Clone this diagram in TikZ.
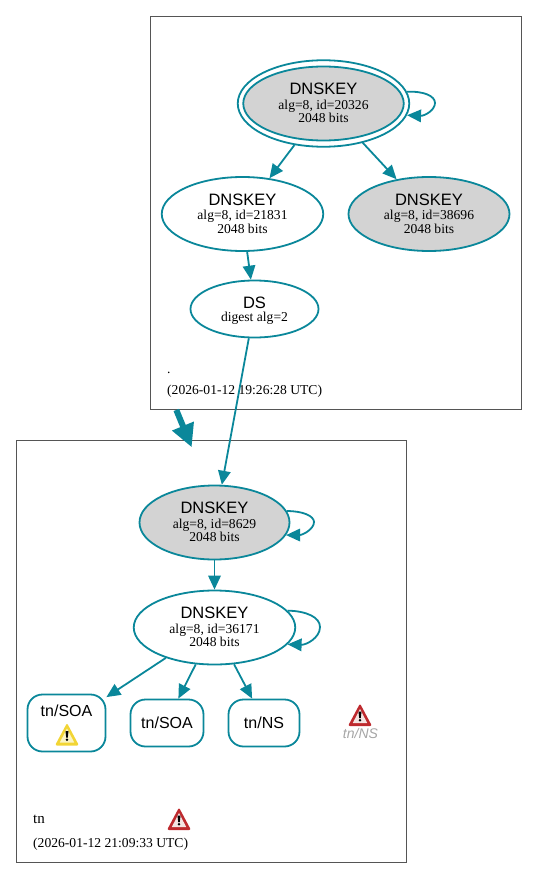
\documentclass[tikz,border=0pt]{standalone}
\usepackage{fontspec}
\setmainfont{Liberation Serif}
\newfontfamily\hv{Liberation Sans}
\usetikzlibrary{shapes.geometric,arrows.meta}
\definecolor{edgec}{HTML}{0A879A}
\definecolor{clusterc}{HTML}{555555}
\definecolor{nodefill}{HTML}{D3D3D3}
\definecolor{warnred}{HTML}{BE2A2E}
\definecolor{warnredin}{HTML}{F4E4E2}
\definecolor{warnyel}{HTML}{F2D534}
\definecolor{warnyelin}{HTML}{FBF4C4}
\newcommand{\keyhead}[1]{{\hv\fontsize{16.5}{15}\selectfont #1}}
\newcommand{\keysub}[1]{{\fontsize{13.6}{14}\selectfont #1}}
\newcommand{\keytext}[3]{\keyhead{#1}\\[2.5pt]\keysub{#2}\\[0pt]\keysub{#3}\\[-11pt]\mbox{}}
\newcommand{\warnshape}[2]{
    \fill[#1,rounded corners=2pt] (-12,11) -- (0,-11.5) -- (12,11) -- cycle;
    \fill[#2] (-7.2,8) -- (0,-6) -- (7.2,8) -- cycle;
    \fill[black] (-1.5,-3.5) -- (1.5,-3.5) -- (0.8,3) -- (-0.8,3) -- cycle;
    \fill[black] (0,5.3) circle (1.4);
}
\tikzset{
  x=1pt,y=-1pt,
  cluster/.style={draw=clusterc,line width=0.9pt,rectangle,inner sep=0pt},
  keynode/.style={ellipse,draw=edgec,line width=1.8pt,inner sep=0pt,align=center,text=black},
  rrnode/.style={rectangle,rounded corners=15pt,draw=edgec,line width=1.8pt,inner sep=0pt,align=center,font=\hv\fontsize{16}{18}\selectfont},
  link/.style={draw=edgec,line width=1.8pt,-{Triangle[length=14pt,width=12.5pt]}},
  thick link/.style={draw=edgec,line width=6pt,-{Triangle[length=23pt,width=22pt]}},
  plain/.style={inner sep=0pt,anchor=base west,text=black},
  warnyellow/.pic={\warnshape{warnyel}{warnyelin}},
  warnredicon/.pic={\warnshape{warnred}{warnredin}},
}
\begin{document}
\begin{tikzpicture}
\useasboundingbox (0,0) rectangle (537,878);
\node[cluster,minimum width=371pt,minimum height=393.5pt] (rootc) at (336,212.75) {};
\node[cluster,minimum width=390.5pt,minimum height=421.5pt] (tnc) at (211.25,651.25) {};

% root zone
\node[ellipse,draw=edgec,line width=1.8pt,minimum width=171.5pt,minimum height=86.5pt,inner sep=0pt] (kskouter) at (323.5,103.5) {};
\node[keynode,fill=nodefill,minimum width=160.5pt,minimum height=74pt] (ksk) at (323.5,103.5) {\keytext{DNSKEY}{alg=8, id=20326}{2048 bits}};
\node[keynode,minimum width=161.5pt,minimum height=74pt] (zsk) at (242.5,214) {\keytext{DNSKEY}{alg=8, id=21831}{2048 bits}};
\node[keynode,fill=nodefill,minimum width=161pt,minimum height=74pt] (other) at (429,214) {\keytext{DNSKEY}{alg=8, id=38696}{2048 bits}};
\node[keynode,minimum width=128pt,minimum height=57pt] (ds) at (254.5,309) {\keyhead{DS}\\[1pt]\keysub{digest alg=2}\\[-12pt]\mbox{}};
\node[plain] (rootname) at (167,373) {\fontsize{13.6}{15}\selectfont .};
\node[plain] (roottime) at (167,394) {\fontsize{13.6}{15}\selectfont (2026-01-12 19:26:28 UTC)};

% tn zone
\node[keynode,fill=nodefill,minimum width=150pt,minimum height=74pt] (tksk) at (214.5,522.5) {\keytext{DNSKEY}{alg=8, id=8629}{2048 bits}};
\node[keynode,minimum width=161.5pt,minimum height=74pt] (tzsk) at (214.5,627.5) {\keytext{DNSKEY}{alg=8, id=36171}{2048 bits}};
\node[rrnode,minimum width=78pt,minimum height=57pt] (soaw) at (66.5,723) {};
\node[inner sep=0pt,anchor=base,font=\hv\fontsize{16}{18}\selectfont] (soawt) at (66.5,716) {tn/SOA};
\node[rrnode,minimum width=73pt,minimum height=47pt] (soa) at (167,723) {tn/SOA};
\node[rrnode,minimum width=71pt,minimum height=47pt] (ns) at (264,723) {tn/NS};
\node[inner sep=0pt,anchor=base,text=black!35,font=\hv\itshape\fontsize{14}{16}\selectfont] (nsbad) at (360.5,738) {tn/NS};
\node[plain] (tnname) at (33,823) {\fontsize{15}{16}\selectfont tn};
\node[plain] (tntime) at (33,847) {\fontsize{13.6}{15}\selectfont (2026-01-12 21:09:33 UTC)};

\pic at (67,734.5) {warnyellow};
\pic at (179,819) {warnredicon};
\pic at (360,715) {warnredicon};

% connectors
\coordinate (thickend) at (191.7,447.3);
\draw[thick link] (rootc.231.4) -- (thickend);
\draw[link] (kskouter.235) -- (zsk.53.6);
\draw[link] (kskouter.-45.7) -- (other.133);
\draw[link] (zsk.-83) -- (ds.97);
\draw[link] (ds.-101) -- (tksk.79.4);
\draw[link] (tksk.-90) -- (tzsk.90);
\draw[link] (tzsk.212.7) -- (soaw.33);
\draw[link] (tzsk.243.7) -- (soa.65.4);
\draw[link] (tzsk.-62.5) -- (ns.116.6);
\coordinate (l1) at (435,103);
\coordinate (l2) at (314,522);
\coordinate (l3) at (320,627);
\draw[link] (kskouter.8.6) .. controls (424,91) and (435,96) .. (l1) .. controls (435,110) and (425,116) .. (kskouter.-8.6);
\draw[link] (tksk.9) .. controls (303,511) and (314,516) .. (l2) .. controls (314,529) and (303,535) .. (tksk.-10);
\draw[link] (tzsk.13) .. controls (306,611) and (320,617) .. (l3) .. controls (320,638) and (306,645) .. (tzsk.-13.5);
\end{tikzpicture}
\end{document}
